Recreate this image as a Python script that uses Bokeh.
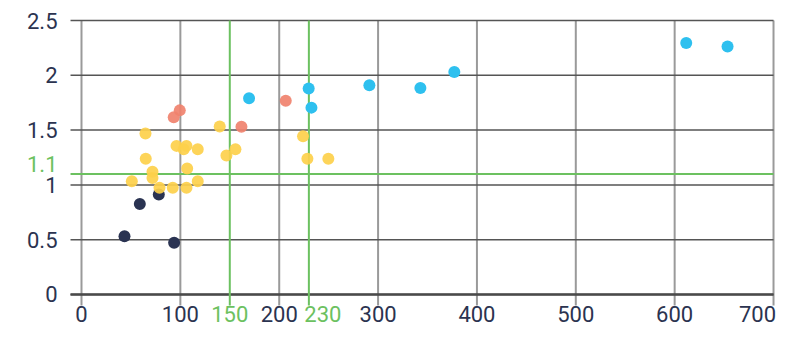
from bokeh.plotting import figure
from bokeh.models import Range1d
from bokeh.core.properties import value
from bokeh.embed import file_html
from bokeh.resources import INLINE

# ---- data ----
navy_x = [43.5, 59, 78.2, 93.7]
navy_y = [0.531, 0.825, 0.913, 0.473]

yellow_x = [64.7, 139.8, 96.1, 103.4, 106.2, 117.6, 155.7, 146.6, 65, 71.8,
            106.9, 50.9, 71.8, 117.6, 78.9, 92.3, 106.2, 224.1, 228.5, 249.7]
yellow_y = [1.47, 1.532, 1.356, 1.326, 1.356, 1.326, 1.326, 1.268, 1.238, 1.12,
            1.15, 1.033, 1.062, 1.033, 0.974, 0.974, 0.974, 1.444, 1.238, 1.238]

salmon_x = [99.4, 93.3, 161.8, 206.6]
salmon_y = [1.68, 1.617, 1.53, 1.767]

blue_x = [169.5, 229.8, 232.6, 291.2, 342.8, 377.1, 611.7, 653.5]
blue_y = [1.79, 1.88, 1.705, 1.91, 1.884, 2.03, 2.295, 2.262]

x_ticks = [0, 100, 200, 300, 400, 500, 600, 700]
x_labels = ["0", "100", "200", "300", "400", "500", "600", "700"]
y_ticks = [0, 0.5, 1, 1.5, 2, 2.5]
y_labels = ["0", "0.5", "1", "1.5", "2", "2.5"]
ref_x = [150, 230]
ref_x_labels = ["150", "230"]
ref_y = [1.1]
ref_y_labels = ["1.1"]

# ---- style ----
TEXT = "#2b3350"
GREEN = "#6cc160"
VGRID = "#9a9a9a"
HGRID = "#555555"
FONT = value("Roboto")
FS = value("22px")

x_lo, y_lo = -11.1, -0.1          # tick extension beyond the axes
x_end, y_end = x_ticks[-1], y_ticks[-1]

p = figure(width=780, height=334, output_backend="svg", toolbar_location=None,
           x_range=Range1d(-81.93, 707.06), y_range=Range1d(-0.365, 2.6825),
           min_border_left=0, min_border_right=0, min_border_top=0, min_border_bottom=0)
p.outline_line_color = None
p.grid.visible = False
p.xaxis.visible = False
p.yaxis.visible = False
p.background_fill_color = "white"
p.border_fill_color = "white"

# vertical gray grid lines (extending below axis as ticks)
p.segment(x0=x_ticks, y0=[y_lo] * len(x_ticks), x1=x_ticks, y1=[y_end] * len(x_ticks),
          line_color=VGRID, line_width=2)
# horizontal grid lines (extending left as ticks)
p.segment(x0=[x_lo] * len(y_ticks), y0=y_ticks, x1=[x_end] * len(y_ticks), y1=y_ticks,
          line_color=HGRID, line_width=1.5)
# bottom axis line
p.segment(x0=[x_lo], y0=[y_ticks[0]], x1=[x_end], y1=[y_ticks[0]],
          line_color="#4a4a4a", line_width=2.5)

# green reference lines
p.segment(x0=ref_x, y0=[y_lo] * len(ref_x), x1=ref_x, y1=[y_end] * len(ref_x),
          line_color=GREEN, line_width=2)
p.segment(x0=[x_lo] * len(ref_y), y0=ref_y, x1=[x_end] * len(ref_y), y1=ref_y,
          line_color=GREEN, line_width=2)

# points
S = 12
p.scatter(navy_x, navy_y, size=S, fill_color="#2a3352", line_color=None)
p.scatter(yellow_x, yellow_y, size=S, fill_color="#fdd04b", fill_alpha=0.92, line_color=None)
p.scatter(salmon_x, salmon_y, size=S, fill_color="#f0826e", fill_alpha=0.92, line_color=None)
p.scatter(blue_x, blue_y, size=S, fill_color="#2ec0ef", line_color=None)

# axis tick labels (last one nudged left to stay inside the canvas)
x_label_shift = [0] * (len(x_ticks) - 1) + [-16]
p.text(x=x_ticks, y=[y_ticks[0]] * len(x_ticks), text=x_labels,
       x_offset=x_label_shift, y_offset=12,
       text_align="center", text_baseline="top", text_font=FONT,
       text_font_size=FS, text_color=TEXT)
p.text(x=[x_ticks[0]] * len(y_ticks), y=y_ticks, text=y_labels, x_offset=-24,
       text_align="right", text_baseline="middle", text_font=FONT,
       text_font_size=FS, text_color=TEXT)

# green reference labels
p.text(x=ref_x, y=[y_ticks[0]] * len(ref_x), text=ref_x_labels,
       x_offset=[0, 14], y_offset=12,
       text_align="center", text_baseline="top", text_font=FONT,
       text_font_size=FS, text_color=GREEN)
p.text(x=[x_ticks[0]] * len(ref_y), y=ref_y, text=ref_y_labels,
       x_offset=-24, y_offset=-10,
       text_align="right", text_baseline="middle", text_font=FONT,
       text_font_size=FS, text_color=GREEN)

open("out.html", "w").write(file_html(p, INLINE))
